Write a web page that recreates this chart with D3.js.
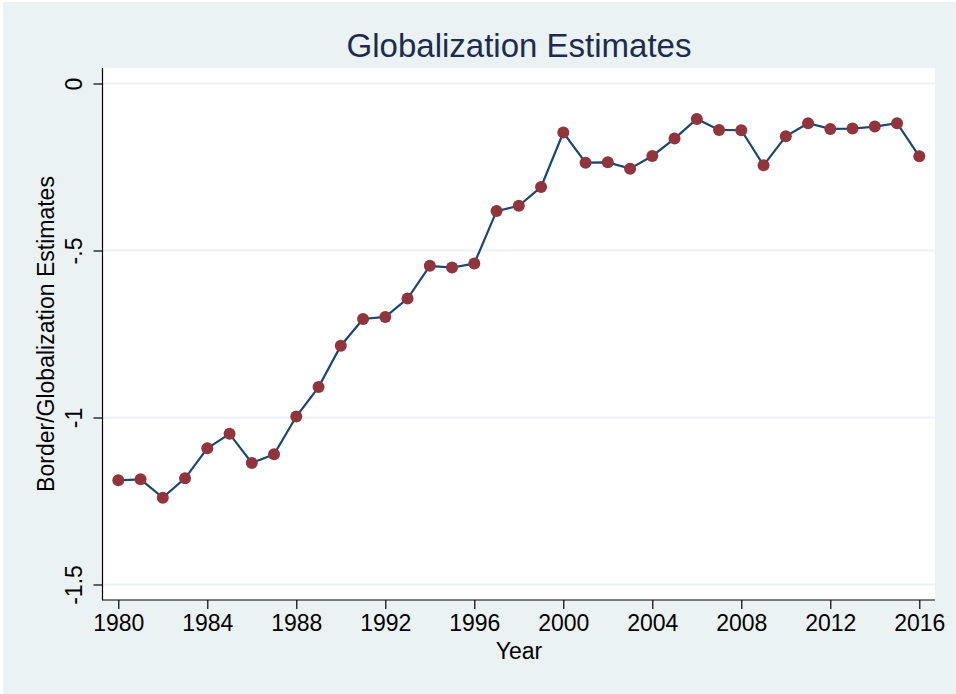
<!DOCTYPE html>
<meta charset="utf-8">
<style>
body { margin: 0; background: #fff; }
svg { display: block; font-family: "Liberation Sans", Arial, Helvetica, sans-serif; }
.grid line { stroke: #eaf2f3; stroke-width: 2px; }
.axis path, .axis line { stroke: #000; stroke-width: 1.2px; }
.axis text { font-size: 23px; fill: #000; font-family: "Liberation Sans", Arial, sans-serif; }
</style>
<body>
<svg width="956" height="694"></svg>
<script src="https://d3js.org/d3.v7.min.js"></script>
<script>

// chart data
var years = d3.range(1980, 2017);
var estimates = [
  -1.188, -1.185, -1.240, -1.182, -1.092, -1.049, -1.136, -1.110, -0.997, -0.909,
  -0.785, -0.705, -0.699, -0.644, -0.546, -0.551, -0.539, -0.382, -0.366, -0.310,
  -0.147, -0.237, -0.236, -0.255, -0.217, -0.165, -0.106, -0.139, -0.140, -0.245,
  -0.158, -0.119, -0.136, -0.135, -0.129, -0.119, -0.218
];
var xTicks = [1980, 1984, 1988, 1992, 1996, 2000, 2004, 2008, 2012, 2016];
var yTicks = [0, -0.5, -1, -1.5];
var yTickLabels = ["0", "-.5", "-1", "-1.5"];

var svg = d3.select("svg");

// outer graph region
svg.append("rect")
  .attr("x", 3).attr("y", 2)
  .attr("width", 953).attr("height", 692)
  .attr("fill", "#eaf2f3");

var plotLeft = 103, plotRight = 935, plotTop = 68, plotBottom = 600;

svg.append("rect")
  .attr("x", plotLeft).attr("y", plotTop)
  .attr("width", plotRight - plotLeft).attr("height", plotBottom - plotTop)
  .attr("fill", "#fff");

var x = d3.scaleLinear().domain([1980, 2016]).range([118.3, 919.3]);
var y = d3.scaleLinear().domain([0, -1.5]).range([83.5, 584.5]);

// gridlines
svg.append("g").attr("class", "grid")
  .selectAll("line")
  .data(yTicks)
  .enter().append("line")
  .attr("x1", plotLeft).attr("x2", plotRight)
  .attr("y1", function(d) { return y(d); })
  .attr("y2", function(d) { return y(d); });

// x axis
var xAxis = svg.append("g")
  .attr("class", "axis")
  .attr("transform", "translate(0," + plotBottom + ")")
  .call(d3.axisBottom(x).tickValues(xTicks).tickFormat(d3.format("d")).tickSize(9).tickPadding(6).tickSizeOuter(0));
xAxis.select(".domain").attr("d", "M" + (plotLeft - 1) + ",0H" + plotRight);

// y axis
var yAxis = svg.append("g")
  .attr("class", "axis")
  .attr("transform", "translate(" + (plotLeft - 0.5) + ",0)")
  .call(d3.axisLeft(y).tickValues(yTicks).tickSize(9).tickSizeOuter(0)
    .tickFormat(function(d, i) { return yTickLabels[i]; }));
yAxis.select(".domain").attr("d", "M0," + plotTop + "V" + plotBottom);
yAxis.selectAll(".tick text")
  .attr("x", 0).attr("dy", 0)
  .attr("text-anchor", "middle")
  .attr("transform", "translate(-21,0) rotate(-90)");

// line
var line = d3.line()
  .x(function(d, i) { return x(years[i]); })
  .y(function(d) { return y(d); });

svg.append("path")
  .datum(estimates)
  .attr("d", line)
  .attr("fill", "none")
  .attr("stroke", "#1a476f")
  .attr("stroke-width", 2.2);

svg.selectAll(".pt")
  .data(estimates)
  .enter().append("circle")
  .attr("class", "pt")
  .attr("cx", function(d, i) { return x(years[i]); })
  .attr("cy", function(d) { return y(d); })
  .attr("r", 6)
  .attr("fill", "#90353b");

// titles
svg.append("text")
  .attr("x", (plotLeft + plotRight) / 2).attr("y", 57)
  .attr("text-anchor", "middle")
  .attr("font-size", 33)
  .attr("fill", "#1c2b52")
  .text("Globalization Estimates");

svg.append("text")
  .attr("x", (plotLeft + plotRight) / 2).attr("y", 659)
  .attr("text-anchor", "middle")
  .attr("font-size", 23)
  .text("Year");

svg.append("text")
  .attr("transform", "translate(54," + (plotTop + plotBottom) / 2 + ") rotate(-90)")
  .attr("text-anchor", "middle")
  .attr("font-size", 23)
  .text("Border/Globalization Estimates");

</script>
</body>
